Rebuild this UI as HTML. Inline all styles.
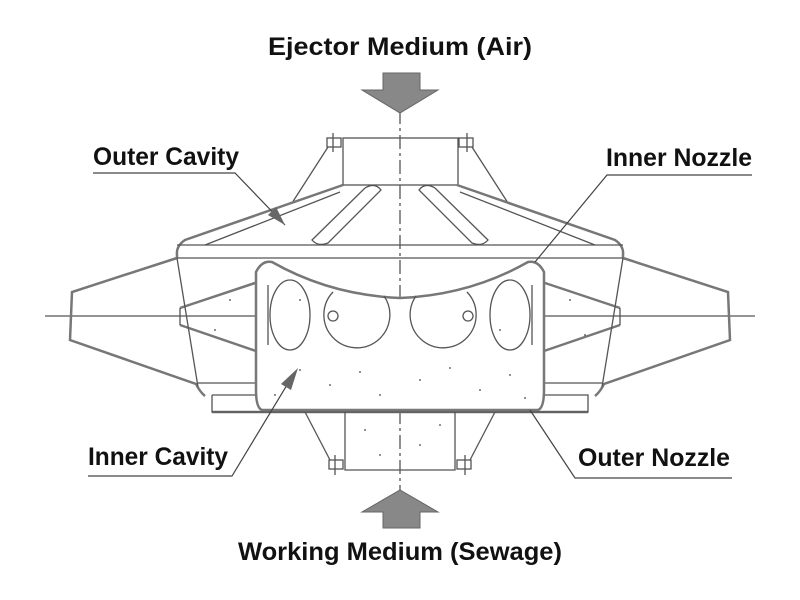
<!DOCTYPE html>
<html><head><style>
html,body{margin:0;padding:0;background:#fff;}
svg{display:block;}
text{font-family:"Liberation Sans",sans-serif;font-size:25px;font-weight:bold;fill:#111;}
</style></head><body>
<svg width="800" height="600" viewBox="0 0 800 600" xmlns="http://www.w3.org/2000/svg">
<rect width="800" height="600" fill="#fff"/>
<g stroke="#555" fill="none" stroke-width="1.3">
<line x1="45" y1="316" x2="755" y2="316"/>
<line x1="400" y1="110" x2="400" y2="525" stroke-dasharray="14,4,3,4"/>
<rect x="343" y="138" width="115" height="47"/>
<rect x="327" y="138" width="14" height="9"/><rect x="459" y="138" width="14" height="9"/>
<line x1="333" y1="133" x2="333" y2="152"/><line x1="467" y1="133" x2="467" y2="152"/>
<line x1="328" y1="147" x2="292" y2="203"/><line x1="472" y1="147" x2="508" y2="203"/>
<g stroke="#777" stroke-width="2.5">
<path d="M343 185 L185 240 Q176 246 177 255 L177 258"/>
<path d="M457 185 L615 240 Q624 246 623 255 L623 258"/>
<path d="M177 258 L72 292 L70 340 L196 384 Q200 392 205 396"/>
<path d="M623 258 L728 292 L730 340 L604 384 Q600 392 595 396"/>
<path d="M258 282 L180 308 M180 325 L256 351 M542 282 L620 308 M620 325 L544 351"/>
<path d="M212 412 L588 412"/>
</g>
<line x1="340" y1="192" x2="205" y2="245"/><line x1="460" y1="192" x2="595" y2="245"/>
<line x1="177" y1="245" x2="623" y2="245"/>
<line x1="177" y1="258" x2="623" y2="258"/>
<path d="M312 240 L365 188 Q375 182 381 190 L328 243 Q318 247 312 240 Z"/>
<path d="M488 240 L435 188 Q425 182 419 190 L472 243 Q482 247 488 240 Z"/>
<line x1="177" y1="258" x2="198" y2="387"/><line x1="623" y1="258" x2="602" y2="387"/>
<line x1="198" y1="383" x2="255" y2="383"/><line x1="602" y1="383" x2="545" y2="383"/>
<path d="M180 308 L180 325 M620 308 L620 325"/>
<path d="M212 395 L212 412 L588 412 L588 395 L545 395"/>
<line x1="212" y1="395" x2="258" y2="395"/>
<path d="M262 410 Q256 408 256 390 L256 272 Q262 260 272 262 Q330 295 400 298 Q470 295 528 262 Q538 260 544 272 L544 390 Q544 408 538 410 Z" fill="#fff" stroke-width="2.5" stroke="#777"/>
<line x1="268" y1="285" x2="268" y2="345"/><line x1="532" y1="285" x2="532" y2="345"/>
<ellipse cx="290" cy="315" rx="20" ry="35"/><ellipse cx="510" cy="315" rx="20" ry="35"/>
<path d="M333 292 A33 33 0 1 0 384 296"/>
<path d="M467 292 A33 33 0 1 1 416 296"/>
<circle cx="333" cy="316" r="5"/><circle cx="468" cy="316" r="5"/>
<path d="M345 412 L345 470 L455 470 L455 412"/>
<rect x="329" y="460" width="14" height="9"/><rect x="457" y="460" width="14" height="9"/>
<line x1="335" y1="455" x2="335" y2="475"/><line x1="465" y1="455" x2="465" y2="475"/>
<line x1="330" y1="460" x2="305" y2="412"/><line x1="470" y1="460" x2="495" y2="412"/>
</g>
<g fill="#444">
<circle cx="300" cy="370" r="0.9"/><circle cx="330" cy="385" r="0.9"/><circle cx="360" cy="372" r="0.9"/><circle cx="380" cy="395" r="0.9"/>
<circle cx="420" cy="380" r="0.9"/><circle cx="450" cy="368" r="0.9"/><circle cx="480" cy="390" r="0.9"/><circle cx="510" cy="375" r="0.9"/>
<circle cx="275" cy="395" r="0.9"/><circle cx="525" cy="398" r="0.9"/><circle cx="365" cy="430" r="0.9"/><circle cx="420" cy="445" r="0.9"/>
<circle cx="380" cy="455" r="0.9"/><circle cx="440" cy="425" r="0.9"/><circle cx="230" cy="300" r="0.9"/><circle cx="570" cy="300" r="0.9"/>
<circle cx="215" cy="330" r="0.9"/><circle cx="585" cy="335" r="0.9"/><circle cx="300" cy="300" r="0.9"/><circle cx="500" cy="330" r="0.9"/>
</g>
<polygon points="383,73 420,73 420,90 438,90 400,113 362,90 383,90" fill="#888" stroke="#666"/>
<polygon points="383,528 420,528 420,512 438,512 400,490 362,512 383,512" fill="#888" stroke="#666"/>
<g stroke="#444" stroke-width="1.2" fill="none">
<polyline points="93,173 235,173 285,225"/>
<polyline points="752,175 607,175 535,262"/>
<polyline points="88,476 232,476 290,380"/>
<polyline points="732,478 575,478 530,410"/>
</g>
<polygon points="285,225 268,215 276,207" fill="#666"/>
<polygon points="298,368 281,384 291,390" fill="#666"/>
<text x="400" y="55" text-anchor="middle" textLength="264" lengthAdjust="spacingAndGlyphs">Ejector Medium (Air)</text>
<text x="93" y="165" textLength="146" lengthAdjust="spacingAndGlyphs">Outer Cavity</text>
<text x="752" y="166" text-anchor="end" textLength="146" lengthAdjust="spacingAndGlyphs">Inner Nozzle</text>
<text x="88" y="465" textLength="140" lengthAdjust="spacingAndGlyphs">Inner Cavity</text>
<text x="578" y="466" textLength="152" lengthAdjust="spacingAndGlyphs">Outer Nozzle</text>
<text x="400" y="560" text-anchor="middle" textLength="324" lengthAdjust="spacingAndGlyphs">Working Medium (Sewage)</text>
</svg>
</body></html>
